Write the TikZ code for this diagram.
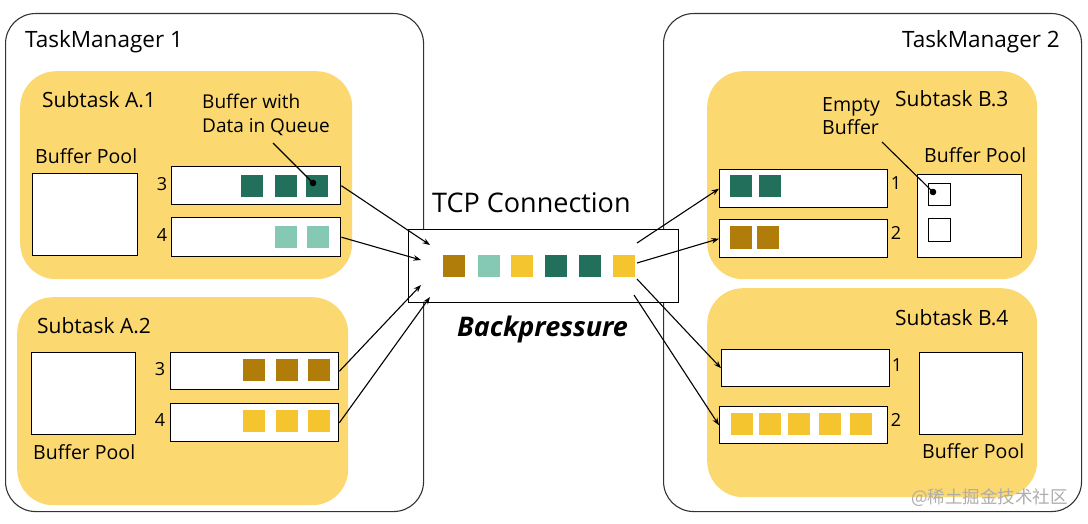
\documentclass[tikz,border=0pt]{standalone}
\usepackage{fontspec}
\setmainfont{Open Sans}
\newfontfamily\cjk{Noto Sans CJK SC}
\usetikzlibrary{arrows.meta}
\definecolor{bgy}{HTML}{FCD871}
\definecolor{dg}{HTML}{22705C}
\definecolor{tl}{HTML}{85C9B5}
\definecolor{br}{HTML}{B07D0B}
\definecolor{ys}{HTML}{F5C52F}
\newcommand{\fs}[1]{\fontsize{#1}{#1}\selectfont}
\begin{document}
\begin{tikzpicture}[x=1pt,y=-1pt,
  tm/.style={draw=black!80, line width=1.1pt, rounded corners=30pt, anchor=north west, inner sep=0},
  sub/.style={fill=bgy, rounded corners=36pt, anchor=north west, inner sep=0},
  qbox/.style={draw=black, line width=1.4pt, fill=white, inner sep=0, anchor=north west},
  pool/.style={draw=black, line width=1.4pt, fill=white, inner sep=0, anchor=north west},
  sq/.style={minimum size=22pt, inner sep=0, draw=none},
  txt/.style={inner sep=0, anchor=base west},
  num/.style={inner sep=0, font=\fs{18}},
  arr/.style={line width=1.1pt, -{Stealth[length=7.5pt,width=5.5pt]}},
  ann/.style={line width=1.1pt}
]
\useasboundingbox (0,0) rectangle (1088,524);
\fill[white] (0,0) rectangle (1088,524);

% Task managers
\node[tm, minimum width=418pt, minimum height=498pt] (tm1) at (5,13) {};
\node[tm, minimum width=418pt, minimum height=498pt] (tm2) at (663,13) {};
\node[txt, font=\fs{22.5}] (tm1t) at (25,48) {TaskManager 1};
\node[txt, anchor=base east, font=\fs{22.5}] (tm2t) at (1060,48) {TaskManager 2};

% Subtask boxes
\node[sub, minimum width=332pt, minimum height=208pt] (a1) at (20,71) {};
\node[sub, minimum width=331pt, minimum height=208pt] (a2) at (17,297) {};
\node[sub, minimum width=330pt, minimum height=208pt] (b3) at (707,71) {};
\node[sub, minimum width=330pt, minimum height=209pt] (b4) at (707,288) {};

% ---- Subtask A.1
\node[txt, font=\fs{21}] (a1t) at (42,108) {Subtask A.1};
\node[inner sep=0, anchor=north west, align=left, font=\fontsize{19}{24}\selectfont] (a1ann) at (202,94) {Buffer with\\Data in Queue};
\node[txt, font=\fs{19.5}] (a1pt) at (35,164) {Buffer Pool};
\node[pool, minimum width=105pt, minimum height=82pt] (a1p) at (32,173) {};
\node[qbox, minimum width=169pt, minimum height=38pt] (a1q3) at (171,166) {};
\node[qbox, minimum width=169pt, minimum height=39pt] (a1q4) at (171,217) {};
\node[num] (a1n3) at (162,184) {3};
\node[num] (a1n4) at (162,235) {4};
\node[sq, fill=dg] (a1s31) at (252,186) {};
\node[sq, fill=dg] (a1s32) at (286,186) {};
\node[sq, fill=dg] (a1s33) at (317,186) {};
\node[sq, fill=tl] (a1s41) at (286,237) {};
\node[sq, fill=tl] (a1s42) at (318,237) {};
\coordinate (a1annS) at (273,143);
\coordinate (a1dot) at (313,183);
\draw[ann] (a1annS) -- (a1dot);
\fill (a1dot) circle (3.3pt);

% ---- Subtask A.2
\node[txt, font=\fs{21}] (a2t) at (37,333) {Subtask A.2};
\node[pool, minimum width=104pt, minimum height=82pt] (a2p) at (31,352) {};
\node[txt, font=\fs{19.5}] (a2pt) at (33,459) {Buffer Pool};
\node[qbox, minimum width=168pt, minimum height=37pt] (a2q3) at (170,352) {};
\node[qbox, minimum width=168pt, minimum height=38pt] (a2q4) at (170,403) {};
\node[num] (a2n3) at (160,369) {3};
\node[num] (a2n4) at (160,420) {4};
\node[sq, fill=br] (a2s31) at (254,370) {};
\node[sq, fill=br] (a2s32) at (287,370) {};
\node[sq, fill=br] (a2s33) at (319,370) {};
\node[sq, fill=ys] (a2s41) at (254,421) {};
\node[sq, fill=ys] (a2s42) at (287,421) {};
\node[sq, fill=ys] (a2s43) at (319,421) {};

% ---- TCP connection
\node[txt, font=\fs{27}] (tcpt) at (432,212) {TCP Connection};
\node[draw=black, line width=1.3pt, fill=white, inner sep=0, anchor=north west, minimum width=270pt, minimum height=73pt] (tcp) at (408,229) {};
\node[sq, fill=br] (t1) at (454,266) {};
\node[sq, fill=tl] (t2) at (489,266) {};
\node[sq, fill=ys] (t3) at (522,266) {};
\node[sq, fill=dg] (t4) at (556,266) {};
\node[sq, fill=dg] (t5) at (590,266) {};
\node[sq, fill=ys] (t6) at (624,266) {};
\node[txt, font=\fs{27}\bfseries\itshape] (bp) at (457,336) {Backpressure};
\coordinate (tin1) at (430,245);
\coordinate (tin2) at (421,260);
\coordinate (tin3) at (421,285);
\coordinate (tin4) at (430,297);
\coordinate (tout1) at (637,243);
\coordinate (tout2) at (637,263);
\coordinate (tout3) at (637,279);
\coordinate (tout4) at (634,295);

% ---- Subtask B.3
\node[txt, font=\fs{21}] (b3t) at (895,107) {Subtask B.3};
\node[inner sep=0, anchor=north west, align=left, font=\fontsize{19.5}{23}\selectfont] (b3ann) at (822,97) {Empty\\Buffer};
\node[txt, font=\fs{19.5}] (b3pt) at (924,163) {Buffer Pool};
\node[pool, minimum width=104pt, minimum height=83pt] (b3p) at (917,174) {};
\node[draw=black, line width=1pt, fill=white, inner sep=0, minimum size=22pt] (b3e1) at (939.5,194.5) {};
\node[draw=black, line width=1pt, fill=white, inner sep=0, minimum size=22pt] (b3e2) at (939.5,230) {};
\node[qbox, minimum width=168pt, minimum height=38pt] (b3q1) at (719,169) {};
\node[qbox, minimum width=168pt, minimum height=38pt] (b3q2) at (719,219) {};
\node[num] (b3n1) at (896,183) {1};
\node[num] (b3n2) at (896,233) {2};
\node[sq, fill=dg] (b3s11) at (741,186.5) {};
\node[sq, fill=dg] (b3s12) at (770,186.5) {};
\node[sq, fill=br] (b3s21) at (741,237.5) {};
\node[sq, fill=br] (b3s22) at (767.5,237.5) {};
\coordinate (b3annS) at (882,142);
\coordinate (b3dot) at (933,192);
\draw[ann] (b3annS) -- (b3dot);
\fill (b3dot) circle (3.3pt);

% ---- Subtask B.4
\node[txt, font=\fs{21}] (b4t) at (895,325) {Subtask B.4};
\node[qbox, minimum width=168pt, minimum height=37pt] (b4q1) at (721,349) {};
\node[qbox, minimum width=168pt, minimum height=37pt] (b4q2) at (719,406) {};
\node[num] (b4n1) at (897,365) {1};
\node[num] (b4n2) at (896,420) {2};
\node[sq, fill=ys] (b4s1) at (742,423.5) {};
\node[sq, fill=ys] (b4s2) at (770,423.5) {};
\node[sq, fill=ys] (b4s3) at (799,423.5) {};
\node[sq, fill=ys] (b4s4) at (830,423.5) {};
\node[sq, fill=ys] (b4s5) at (861,423.5) {};
\node[pool, minimum width=103pt, minimum height=82pt] (b4p) at (919,352) {};
\node[txt, font=\fs{19.5}] (b4pt) at (922,458) {Buffer Pool};

% ---- arrows
\draw[arr] (a1q3.east) -- (tin1);
\draw[arr] (a1q4.east) -- (tin2);
\draw[arr] (a2q3.east) -- (tin3);
\draw[arr] (a2q4.east) -- (tin4);
\draw[arr] (tout1) -- (b3q1.west);
\draw[arr] (tout2) -- (b3q2.west);
\draw[arr] (tout3) -- (b4q1.west);
\draw[arr] (tout4) -- (b4q2.west);

% watermark
\node[inner sep=0, anchor=west, text=black!32, font=\cjk\fs{17.5}] (wm) at (911,498) {@稀土掘金技术社区};
\end{tikzpicture}
\end{document}
